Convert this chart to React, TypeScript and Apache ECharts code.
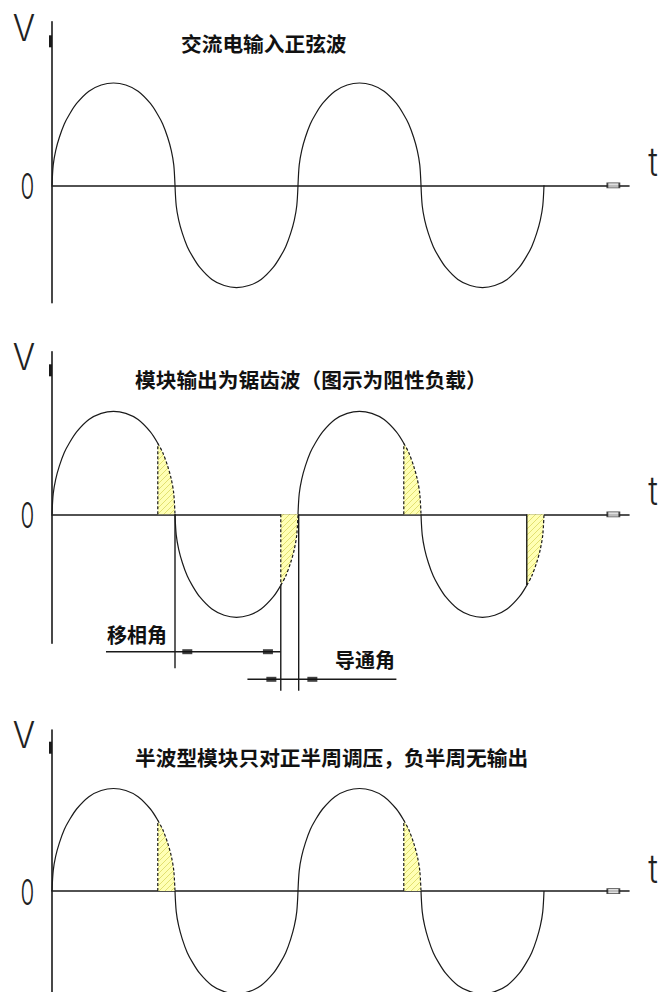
import React, { useEffect, useRef } from "react";
import * as echarts from "echarts";

// ---- data ----
// one half-cycle of the wave: fraction of the half-period -> fraction of the peak
const halfCycleT = [0, 0.01, 0.03, 0.06, 0.1, 0.14, 0.2, 0.3, 0.4, 0.5, 0.6, 0.7, 0.8, 0.86, 0.9, 0.94, 0.97, 0.99, 1];
const halfCycleV = [0, 0.2, 0.34, 0.47, 0.6, 0.69, 0.8, 0.92, 0.98, 1, 0.98, 0.92, 0.8, 0.69, 0.6, 0.47, 0.34, 0.2, 0];
const halfCycleStarts = [0, 180, 360, 540]; // degrees
const halfCycleSigns = [1, -1, 1, -1];
const halfCycleDegrees = 180;
const firingIndex = 13; // trigger point inside each half-cycle (~155°)

const titles = [
  "交流电输入正弦波",
  "模块输出为锯齿波（图示为阻性负载）",
  "半波型模块只对正半周调压，负半周无输出",
];
const shadedHalves = [
  [false, false, false, false],
  [true, true, true, true],
  [true, false, true, false],
];
const solidFiringEdge = [
  [false, false, false, false],
  [false, false, false, true],
  [false, false, false, false],
];
const axisNameV = "V";
const axisNameT = "t";
const zeroLabel = "0";
const phaseLabel = "移相角";
const conductLabel = "导通角";

// panel 2 dimension drawing, [degrees, value]
const extensionLines = [
  [[180, 0], [180, -1.495]],
  [[334.8, -0.69], [334.8, -1.713]],
  [[361, 0], [361, -1.713]],
];
const phaseDimLine = [[79, -1.334], [334.8, -1.334]];
const phaseDimMarks = [[198, -1.334], [316, -1.334]];
const conductDimLine = [[286, -1.602], [504, -1.602]];
const conductDimMarks = [[321, -1.602], [381, -1.602]];
const axisEndMark = [821.5, 0];

// ---- layout ----
const PX0 = 52;
const PX_PER_DEG = 492 / 720;
const XMAX = 577 / PX_PER_DEG;
const panels = [
  { zeroY: 185.3, amp: 102.3, top: 21.7, bottom: 302.7 },
  { zeroY: 514.3, amp: 103, top: 351.7, bottom: 643.3 },
  { zeroY: 891.7, amp: 103, top: 730, bottom: 993 },
];
const titlePos = [
  { x: 181, y: 42.5 },
  { x: 135, y: 378.5 },
  { x: 135, y: 756.5 },
];
const INK = "#1a1a1a";
const CJK = '"Noto Sans CJK SC", "Noto Sans", sans-serif';
const THIN = 'Inter, "DejaVu Sans", sans-serif';

function makeHatch(): any {
  try {
    const c = document.createElement("canvas");
    c.width = 6;
    c.height = 6;
    const g = c.getContext("2d");
    if (!g) return "#ffffb0";
    g.fillStyle = "#ffffb4";
    g.fillRect(0, 0, 6, 6);
    g.strokeStyle = "#e2e070";
    g.lineWidth = 1;
    g.beginPath();
    g.moveTo(0, 6);
    g.lineTo(6, 0);
    g.moveTo(-1, 1);
    g.lineTo(1, -1);
    g.moveTo(5, 7);
    g.lineTo(7, 5);
    g.stroke();
    return { image: c, repeat: "repeat", imageWidth: 6, imageHeight: 6 };
  } catch (e) {
    return "#ffffb0";
  }
}

function buildOption() {
  const hatch = makeHatch();
  const grid: any[] = [];
  const xAxis: any[] = [];
  const yAxis: any[] = [];
  const series: any[] = [];
  const graphic: any[] = [];

  const line = (p: number, data: any[], style: any, extra: any = {}) =>
    series.push({
      type: "line",
      xAxisIndex: p,
      yAxisIndex: p,
      data,
      showSymbol: false,
      symbol: "none",
      clip: false,
      silent: true,
      lineStyle: { color: INK, width: 1.2, ...style },
      z: 3,
      ...extra,
    });

  panels.forEach((pn, p) => {
    grid.push({ left: PX0, top: pn.top, width: 577, height: pn.bottom - pn.top });
    xAxis.push({
      type: "value",
      gridIndex: p,
      min: 0,
      max: XMAX,
      axisLine: { show: true, onZero: true, lineStyle: { color: INK, width: 1.6 } },
      axisTick: { show: false },
      axisLabel: { show: false },
      splitLine: { show: false },
    });
    yAxis.push({
      type: "value",
      gridIndex: p,
      min: -(pn.bottom - pn.zeroY) / pn.amp,
      max: (pn.zeroY - pn.top) / pn.amp,
      axisLine: { show: true, onZero: false, lineStyle: { color: INK, width: 1.6 } },
      axisTick: { show: false },
      axisLabel: { show: false },
      splitLine: { show: false },
    });

    halfCycleStarts.forEach((start, h) => {
      const sign = halfCycleSigns[h];
      const pts = halfCycleT.map((t, i) => [start + t * halfCycleDegrees, sign * halfCycleV[i]]);
      if (shadedHalves[p][h]) {
        const tail = pts.slice(firingIndex);
        line(p, pts.slice(0, firingIndex + 1), {}, { smooth: 0.3 });
        series.push({
          type: "line",
          xAxisIndex: p,
          yAxisIndex: p,
          data: tail,
          smooth: 0.3,
          showSymbol: false,
          symbol: "none",
          silent: true,
          lineStyle: { width: 0, opacity: 0 },
          areaStyle: { color: hatch, opacity: 1, origin: "auto" },
          z: 1,
        });
        line(p, tail, { type: [3, 2] }, { smooth: 0.3 });
        const f = tail[0];
        line(p, [[f[0], 0], f], solidFiringEdge[p][h] ? { width: 1.4 } : { type: [3, 2] });
      } else {
        line(p, pts, {}, { smooth: 0.3 });
      }
    });

    series.push({
      type: "scatter",
      xAxisIndex: p,
      yAxisIndex: p,
      data: [axisEndMark],
      symbol: "rect",
      symbolSize: [12, 5],
      silent: true,
      clip: false,
      itemStyle: { color: "#d8d8d8", borderColor: INK, borderWidth: 1.2 },
      z: 4,
    });

    // labels
    graphic.push({
      type: "text",
      x: 24,
      y: pn.zeroY - 157.5,
      scaleX: 0.9,
      style: {
        text: axisNameV, fontFamily: THIN, fontWeight: 300, fontSize: 37, fill: "#222",
        align: "center", verticalAlign: "middle", textAlign: "center", textVerticalAlign: "middle",
      },
    });
    graphic.push({
      type: "text",
      x: 653,
      y: pn.zeroY - 23.5,
      scaleX: 0.8,
      style: {
        text: axisNameT, fontFamily: THIN, fontWeight: 300, fontSize: 40, fill: "#222",
        align: "center", verticalAlign: "middle", textAlign: "center", textVerticalAlign: "middle",
      },
    });
    graphic.push({
      type: "text",
      x: 27.5,
      y: pn.zeroY + 0.5,
      scaleX: 0.62,
      style: {
        text: zeroLabel, fontFamily: THIN, fontWeight: 300, fontSize: 36, fill: "#222",
        align: "center", verticalAlign: "middle", textAlign: "center", textVerticalAlign: "middle",
      },
    });
    graphic.push({
      type: "rect",
      shape: { x: 49, y: pn.zeroY - 150, width: 3, height: 12 },
      style: { fill: INK },
    });
    graphic.push({
      type: "text",
      x: titlePos[p].x,
      y: titlePos[p].y,
      style: {
        text: titles[p], fontFamily: CJK, fontWeight: "bold", fontSize: 20.7, fill: "#111",
        align: "left", verticalAlign: "middle", textAlign: "left", textVerticalAlign: "middle",
      },
    });
  });

  // panel 2 dimension lines
  extensionLines.forEach((seg) => line(1, seg, { width: 1.4 }));
  line(1, phaseDimLine, { width: 1.4 });
  line(1, conductDimLine, { width: 1.4 });
  series.push({
    type: "scatter",
    xAxisIndex: 1,
    yAxisIndex: 1,
    data: [...phaseDimMarks, ...conductDimMarks],
    symbol: "rect",
    symbolSize: [10, 5],
    silent: true,
    clip: false,
    itemStyle: { color: "#111" },
    z: 4,
  });
  graphic.push({
    type: "text",
    x: 137,
    y: 634,
    style: {
      text: phaseLabel, fontFamily: CJK, fontWeight: "bold", fontSize: 20, fill: "#111",
      align: "center", verticalAlign: "middle", textAlign: "center", textVerticalAlign: "middle",
    },
  });
  graphic.push({
    type: "text",
    x: 365,
    y: 659,
    style: {
      text: conductLabel, fontFamily: CJK, fontWeight: "bold", fontSize: 20, fill: "#111",
      align: "center", verticalAlign: "middle", textAlign: "center", textVerticalAlign: "middle",
    },
  });

  return {
    animation: false,
    backgroundColor: "#ffffff",
    grid,
    xAxis,
    yAxis,
    series,
    graphic,
  };
}

export default function App() {
  const ref = useRef<HTMLDivElement>(null);
  useEffect(() => {
    const chart = echarts.init(ref.current as HTMLDivElement, null, { renderer: "svg" });
    chart.setOption(buildOption() as any);
    return () => chart.dispose();
  }, []);
  return (
    <div
      ref={ref}
      style={{ position: "absolute", left: 0, top: 0, width: 663, height: 992, background: "#fff" }}
    />
  );
}
